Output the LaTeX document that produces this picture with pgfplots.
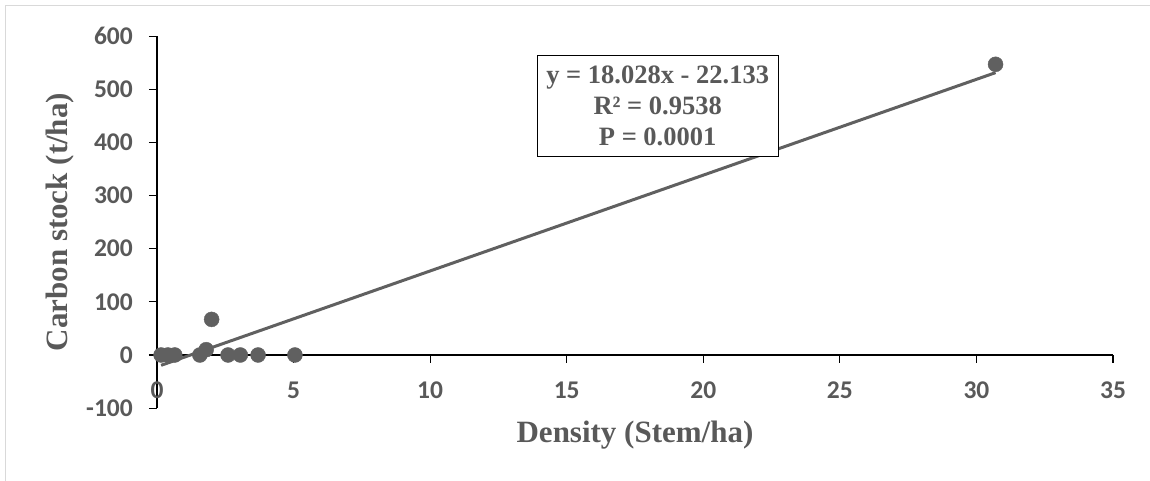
\documentclass[border=0pt]{standalone}
\usepackage{pgfplots}
\pgfplotsset{compat=1.18}
\usepackage{fontspec}
\setmainfont{Liberation Serif}
\newfontfamily\calib{Carlito}
\definecolor{txtgray}{RGB}{89,89,89}
\definecolor{ptgray}{RGB}{96,96,96}
\definecolor{framegray}{RGB}{217,217,217}

\begin{document}
\begin{tikzpicture}
% page = 1150 x 481 pt, origin of the plot at pixel (157,355)
\useasboundingbox (-157pt,-126pt) rectangle (993pt,355pt);
\draw[framegray, line width=1pt] (-151pt,-130pt) -- (-151pt,349pt) -- (995pt,349pt);

\begin{axis}[
    at={(0,0)}, anchor=origin,
    scale only axis,
    width=956pt, height=372pt,
    xmin=0, xmax=35,
    ymin=-100, ymax=600,
    axis x line=middle,
    axis y line=left,
    axis line style={black, line width=1.2pt, -},
    hide obscured x ticks=false,
    hide obscured y ticks=false,
    xtick={0,5,10,15,20,25,30,35},
    xticklabels={0,5,10,15,20,25,30,35},
    ytick={-100,0,100,200,300,400,500,600},
    yticklabels={-100,0,100,200,300,400,500,600},
    tick align=outside,
    major tick length=8pt,
    tick style={black, line width=1.2pt},
    xticklabel style={font=\calib\bfseries\fontsize{25.5}{28}\selectfont, text=txtgray,
        anchor=north, inner sep=0pt},
    xticklabel shift=19pt,
    yticklabel style={font=\calib\bfseries\fontsize{25.5}{28}\selectfont, text=txtgray,
        anchor=east, inner sep=0pt},
    yticklabel shift=16pt,
    xlabel={Density (Stem/ha)},
    ylabel={Carbon stock (t/ha)},
    label style={font=\bfseries\fontsize{31}{34}\selectfont, text=txtgray},
    xlabel style={at={(axis description cs:0.5,0)}, anchor=base, inner sep=0pt, yshift=-34pt},
    ylabel style={at={(axis description cs:-0.1015,0.5)}, anchor=center, rotate=0},
    clip=false,
]

% observed points
\addplot[only marks, mark=*, mark size=7.5pt, ptgray, mark options={draw=ptgray, fill=ptgray}] coordinates {
    (0.15,0) (0.4,0) (0.65,0)
    (1.57,0) (1.8,10) (2.0,67)
    (2.6,0) (3.05,0) (3.7,0) (5.05,0)
    (30.7,547)
};

% linear trendline y = 18.028x - 22.133
\addplot[ptgray, line width=3pt] coordinates {
    (0.15,-19.43) (30.7,531.33)
};

\node[draw=black, line width=1.2pt, fill=white, align=center,
      font=\bfseries\fontsize{26.5}{31}\selectfont, text=txtgray,
      minimum width=241pt, minimum height=101pt, inner sep=2pt]
    at (axis cs:18.33,469) {y = 18.028x - 22.133\\R² = 0.9538\\P = 0.0001};

\end{axis}
\end{tikzpicture}
\end{document}
